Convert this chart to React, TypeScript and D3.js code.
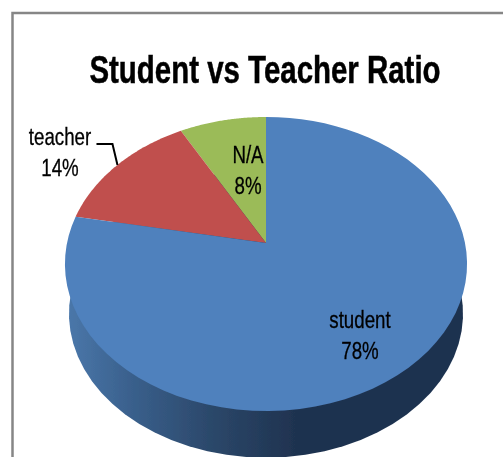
import * as d3 from 'd3';

const categories = ['N/A', 'teacher', 'student'];
const shares = [8, 14, 78];
const colors = ['#9bbb59', '#c0504d', '#4f81bd'];
const title = 'Student vs Teacher Ratio';

const width = 503;
const height = 457;
const font = '"Liberation Sans", Arial, sans-serif';

// the pie is tilted in perspective, so the apex sits above the middle of the ellipse
const apexX = 266;
const apexY = 243;
const radiusX = 199;
const radiusY = 144;
const tilt = 1 / 7;

// slices run anticlockwise from twelve o'clock
const project = (angle: number, scale = 1, shift = 0): [number, number] => {
  const u = -Math.sin(angle);
  const v = Math.cos(angle);
  const w = 1 + tilt * v;
  return [apexX + (scale * radiusX * u) / w, apexY + shift - (scale * radiusY * v) / w];
};

const arcs = d3
  .pie<number>()
  .sort(null)
  .value(d => d)(shares);

const line = d3.line();

const rim = (start: number, end: number, scale = 1, shift = 0) =>
  d3.range(0, 73).map(i => project(start + ((end - start) * i) / 72, scale, shift));

const slicePath = (start: number, end: number) =>
  line([[apexX, apexY], ...rim(start, end)]) + 'Z';

const wallPath = line(rim(0, Math.PI * 2, 0.98, 50)) + 'Z';

const teacher = arcs[1];
const leaderEnd = project((teacher.startAngle + teacher.endAngle) / 2);
const leader = line([
  [leaderEnd[0] - 21, leaderEnd[1] - 21],
  [leaderEnd[0] - 5, leaderEnd[1] - 21],
  leaderEnd,
]);

const labelSpots = [
  { x: 248, y: 165 },
  { x: 60, y: 147 },
  { x: 360, y: 330 },
];

export default function App() {
  return (
    <svg
      width={width}
      height={height}
      style={{ position: 'absolute', left: 0, top: 0, background: '#fff' }}
    >
      <defs>
        <linearGradient id="wall" gradientUnits="userSpaceOnUse" x1="65" x2="295" y1="0" y2="0">
          <stop offset="0" stopColor="#4b78ab" />
          <stop offset="0.3" stopColor="#395f8b" />
          <stop offset="0.65" stopColor="#2b4769" />
          <stop offset="1" stopColor="#1f3350" />
        </linearGradient>
        <filter id="soft" x="-5%" y="-5%" width="110%" height="110%">
          <feGaussianBlur stdDeviation="0.7" />
        </filter>
      </defs>
      <g filter="url(#soft)">
        <path d={`M12.5,${height}V13H${width}`} fill="none" stroke="#868686" strokeWidth={2.5} />
        <path d={wallPath} fill="url(#wall)" />
        {arcs.map((a, i) => (
          <path key={categories[i]} d={slicePath(a.startAngle, a.endAngle)} fill={colors[i]} />
        ))}
        <path d={leader ?? ''} fill="none" stroke="#000" strokeWidth={2} />
        <text
          transform="translate(265,83) scale(0.755,1)"
          textAnchor="middle"
          fontFamily={font}
          fontWeight="bold"
          fontSize={39}
          fill="#000"
          stroke="#000"
          strokeWidth={0.5}
        >
          {title}
        </text>
        {categories.map((c, i) => (
          <text
            key={c}
            transform={`translate(${labelSpots[i].x},${labelSpots[i].y}) scale(0.78,1)`}
            textAnchor="middle"
            fontFamily={font}
            fontSize={24}
            fill="#000"
            stroke="#000"
            strokeWidth={0.3}
          >
            <tspan x={0} y={-2}>
              {c}
            </tspan>
            <tspan x={0} y={29}>
              {shares[i]}%
            </tspan>
          </text>
        ))}
      </g>
    </svg>
  );
}
